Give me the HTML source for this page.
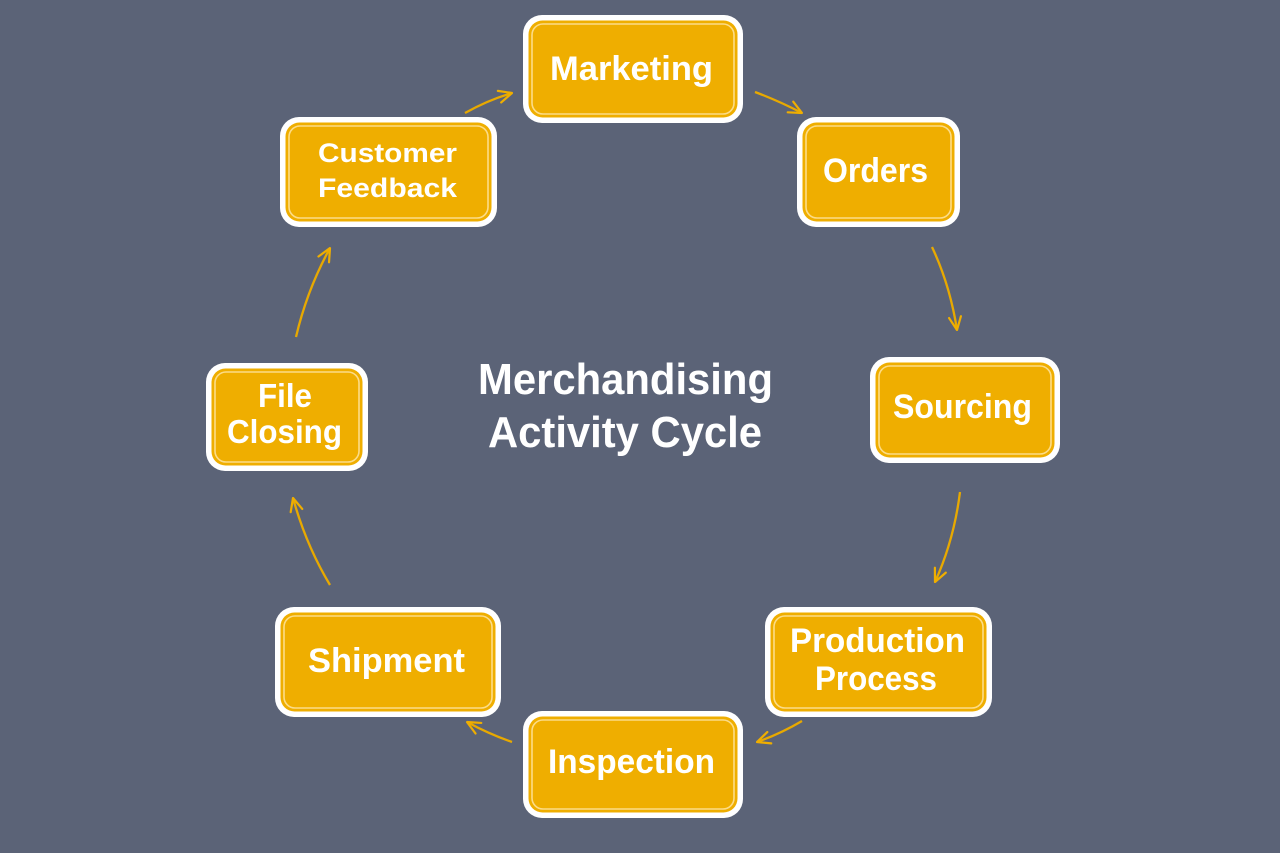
<!DOCTYPE html>
<html>
<head>
<meta charset="utf-8">
<style>
  html,body{margin:0;padding:0;background:#5b6377;}
  svg{display:block;}
  text{font-family:"Liberation Sans",Arial,sans-serif;font-weight:bold;fill:#ffffff;}
</style>
</head>
<body>
<svg width="1280" height="853" viewBox="0 0 1280 853" xmlns="http://www.w3.org/2000/svg">
  <defs>
    <marker id="ah" viewBox="0 0 16 16" refX="15" refY="8" markerWidth="16" markerHeight="16" markerUnits="userSpaceOnUse" orient="auto">
      <path d="M2,2 L15,8 L2,14" fill="none" stroke="#efae00" stroke-width="2.2" stroke-linecap="round" stroke-linejoin="round"/>
    </marker>
  </defs>
  <rect x="0" y="0" width="1280" height="853" fill="#5b6377"/>

  <!-- connectors -->
  <g fill="none" stroke="#e8a900" stroke-width="2.3" marker-end="url(#ah)">
    <path d="M465,113 Q488,100 512,93"/>
    <path d="M755,92 Q779,101 802,113"/>
    <path d="M932,247 Q950,285 957,330"/>
    <path d="M960,492 Q954,540 935,582"/>
    <path d="M802,721 Q780,734 757,742"/>
    <path d="M512,742 Q489,734 467,722"/>
    <path d="M330,585 Q306,545 293,498"/>
    <path d="M296,337 Q307,290 330,248"/>
  </g>
  <circle cx="990" cy="663" r="1.5" fill="#c98f00"/>

  <!-- boxes -->
  <g>
    <!-- Marketing -->
    <rect x="523" y="15" width="220" height="108" rx="19" fill="#ffffff"/>
    <rect x="528.5" y="20.5" width="209" height="97" rx="14" fill="#efae00"/>
    <rect x="532" y="24" width="202" height="90" rx="11" fill="none" stroke="#fcdc88" stroke-width="1.6"/>
    <!-- Orders -->
    <rect x="797" y="117" width="163" height="110" rx="19" fill="#ffffff"/>
    <rect x="802.5" y="122.5" width="152" height="99" rx="14" fill="#efae00"/>
    <rect x="806" y="126" width="145" height="92" rx="11" fill="none" stroke="#fcdc88" stroke-width="1.6"/>
    <!-- Sourcing -->
    <rect x="870" y="357" width="190" height="106" rx="19" fill="#ffffff"/>
    <rect x="875.5" y="362.5" width="179" height="95" rx="14" fill="#efae00"/>
    <rect x="879" y="366" width="172" height="88" rx="11" fill="none" stroke="#fcdc88" stroke-width="1.6"/>
    <!-- Production Process -->
    <rect x="765" y="607" width="227" height="110" rx="19" fill="#ffffff"/>
    <rect x="770.5" y="612.5" width="216" height="99" rx="14" fill="#efae00"/>
    <rect x="774" y="616" width="209" height="92" rx="11" fill="none" stroke="#fcdc88" stroke-width="1.6"/>
    <!-- Inspection -->
    <rect x="523" y="711" width="220" height="107" rx="19" fill="#ffffff"/>
    <rect x="528.5" y="716.5" width="209" height="96" rx="14" fill="#efae00"/>
    <rect x="532" y="720" width="202" height="89" rx="11" fill="none" stroke="#fcdc88" stroke-width="1.6"/>
    <!-- Shipment -->
    <rect x="275" y="607" width="226" height="110" rx="19" fill="#ffffff"/>
    <rect x="280.5" y="612.5" width="215" height="99" rx="14" fill="#efae00"/>
    <rect x="284" y="616" width="208" height="92" rx="11" fill="none" stroke="#fcdc88" stroke-width="1.6"/>
    <!-- File Closing -->
    <rect x="206" y="363" width="162" height="108" rx="19" fill="#ffffff"/>
    <rect x="211.5" y="368.5" width="151" height="97" rx="14" fill="#efae00"/>
    <rect x="215" y="372" width="144" height="90" rx="11" fill="none" stroke="#fcdc88" stroke-width="1.6"/>
    <!-- Customer Feedback -->
    <rect x="280" y="117" width="217" height="110" rx="19" fill="#ffffff"/>
    <rect x="285.5" y="122.5" width="206" height="99" rx="14" fill="#efae00"/>
    <rect x="289" y="126" width="199" height="92" rx="11" fill="none" stroke="#fcdc88" stroke-width="1.6"/>
  </g>

  <!-- box labels -->
  <text x="550" y="80" font-size="34" textLength="163" lengthAdjust="spacingAndGlyphs">Marketing</text>
  <text x="823" y="182" font-size="34" textLength="105" lengthAdjust="spacingAndGlyphs">Orders</text>
  <text x="893" y="418" font-size="34" textLength="139" lengthAdjust="spacingAndGlyphs">Sourcing</text>
  <text x="790" y="652" font-size="34" textLength="175" lengthAdjust="spacingAndGlyphs">Production</text>
  <text x="815" y="690" font-size="34" textLength="122" lengthAdjust="spacingAndGlyphs">Process</text>
  <text x="548" y="773" font-size="34" textLength="167" lengthAdjust="spacingAndGlyphs">Inspection</text>
  <text x="308" y="672" font-size="34" textLength="157" lengthAdjust="spacingAndGlyphs">Shipment</text>
  <text x="258" y="407" font-size="33" textLength="54" lengthAdjust="spacingAndGlyphs">File</text>
  <text x="227" y="443" font-size="33" textLength="115" lengthAdjust="spacingAndGlyphs">Closing</text>
  <text x="318" y="162" font-size="27" textLength="139" lengthAdjust="spacingAndGlyphs">Customer</text>
  <text x="318" y="197" font-size="27" textLength="139" lengthAdjust="spacingAndGlyphs">Feedback</text>

  <!-- center title -->
  <text x="478" y="394" font-size="44" textLength="295" lengthAdjust="spacingAndGlyphs">Merchandising</text>
  <text x="488" y="447" font-size="44" textLength="274" lengthAdjust="spacingAndGlyphs">Activity Cycle</text>
</svg>
</body>
</html>
